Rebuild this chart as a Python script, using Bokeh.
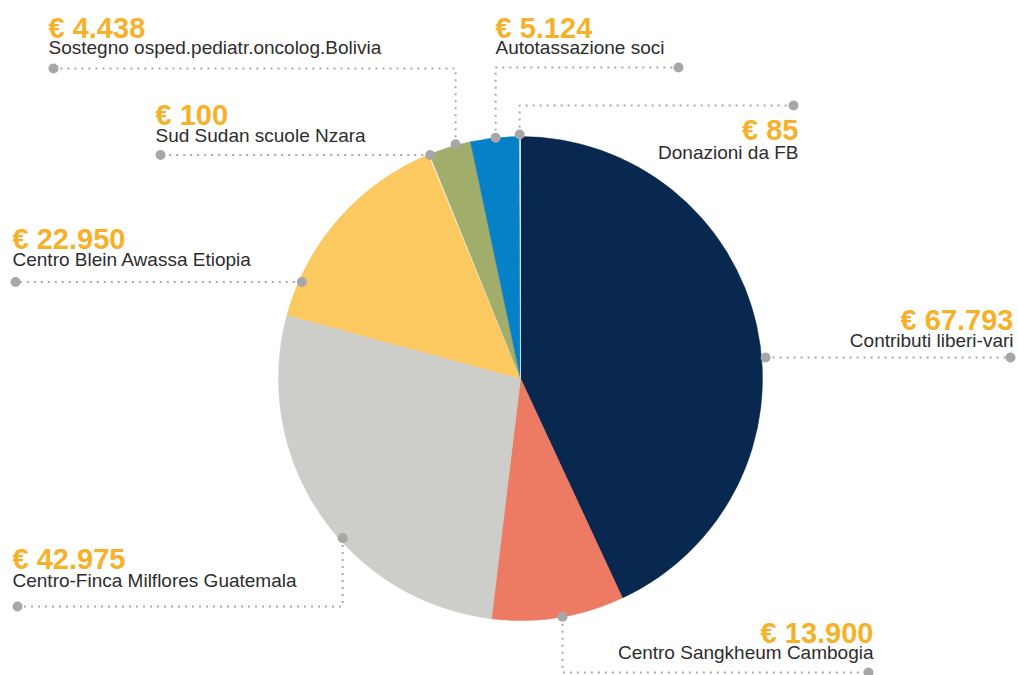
import math
from bokeh.plotting import figure
from bokeh.models import Range1d, ColumnDataSource
from bokeh.core.properties import value
from bokeh.embed import file_html
from bokeh.resources import INLINE

# ---------------- data ----------------
categories = [
    "Contributi liberi-vari",
    "Centro Sangkheum Cambogia",
    "Centro-Finca Milflores Guatemala",
    "Centro Blein Awassa Etiopia",
    "Sud Sudan scuole Nzara",
    "Sostegno osped.pediatr.oncolog.Bolivia",
    "Autotassazione soci",
    "Donazioni da FB",
]
amounts = [67793, 13900, 42975, 22950, 100, 4438, 5124, 85]
colors = ["#08284f", "#ed7b64", "#cdcdc9", "#fcc960", "#ffffff", "#a1ad6b", "#0680c7", "#ffffff"]
value_labels = ["€ " + f"{a:,}".replace(",", ".") for a in amounts]

# ---------------- layout (reference pixel coordinates) ----------------
W, H = 1018, 675
def Y(py):
    return H - py

CX, CY, R = 520, Y(378), 242
# anchor angle on pie (deg clockwise from top), anchor radius
anchor_deg = [85.1, 170.0, 228.1, 293.8, 338.0, 344.5, 354.1, 359.8]
anchor_r = [246, 242, 239, 239, 241, 243, 242, 244]
elbow_y = [None, 672, 606, None, None, 68, 67, 105]
end_x = [1010, 868, 17, 15, 160, 53, 678, 793]
text_x = [1013, 873, 12, 12, 155, 48, 495, 798]
val_base = [327, 640, 566, 246, 122, 35, 35, 137]
lab_base = [346, 658, 586, 265, 141, 53, 53, 158]
align = ["right", "right", "left", "left", "left", "left", "left", "right"]
VAL_SHIFT, LAB_SHIFT = -8, -6

p = figure(width=W, height=H, x_range=Range1d(0, W), y_range=Range1d(0, H),
           x_axis_type=None, y_axis_type=None, output_backend="svg",
           toolbar_location=None, min_border=0)
p.grid.visible = False
p.outline_line_color = None
p.background_fill_color = "white"
p.border_fill_color = "white"

# wedges
total = float(sum(amounts))
cum = 0.0
starts, ends = [], []
for a in amounts:
    a0 = cum / total * 360.0
    cum += a
    a1 = cum / total * 360.0
    starts.append(math.radians(90 - a1))
    ends.append(math.radians(90 - a0))
wsrc = ColumnDataSource(dict(start=starts, end=ends, color=colors, cat=categories))
p.wedge(x=CX, y=CY, radius=R, start_angle="start", end_angle="end",
        fill_color="color", line_color="color", line_width=0.5, source=wsrc)

# leaders
xs, ys, dx, dy = [], [], [], []
for i in range(len(amounts)):
    th = math.radians(anchor_deg[i])
    ax = CX + anchor_r[i] * math.sin(th)
    ay = CY + anchor_r[i] * math.cos(th)
    if elbow_y[i] is None:
        xs.append([ax, end_x[i]]); ys.append([ay, ay])
        dx += [ax, end_x[i]]; dy += [ay, ay]
    else:
        ey = Y(elbow_y[i])
        xs.append([ax, ax, end_x[i]]); ys.append([ay, ey, ey])
        dx += [ax, end_x[i]]; dy += [ay, ey]
p.multi_line(xs, ys, line_color="#aaa7a7", line_width=2, line_dash="2 5")
p.scatter(dx, dy, size=10, fill_color="#a9a6a6", line_color=None)

# texts
for side in ("left", "right"):
    idx = [i for i in range(len(amounts)) if align[i] == side]
    p.text([text_x[i] for i in idx], [Y(val_base[i] + VAL_SHIFT) for i in idx],
           text=[value_labels[i] for i in idx],
           text_font=value("Liberation Sans"), text_font_style="bold",
           text_font_size="29px", text_color="#f6b12a",
           text_align=side, text_baseline="alphabetic")
    p.text([text_x[i] for i in idx], [Y(lab_base[i] + LAB_SHIFT) for i in idx],
           text=[categories[i] for i in idx],
           text_font=value("Liberation Sans"), text_font_size="19px",
           text_color="#2d2d2d", text_align=side, text_baseline="alphabetic")

open("out.html", "w").write(file_html(p, INLINE))
